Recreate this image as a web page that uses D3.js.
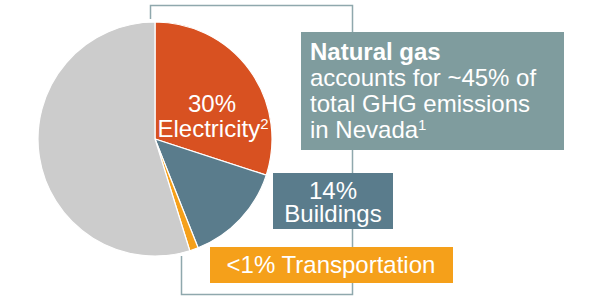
<!DOCTYPE html>
<html><head><meta charset="utf-8">
<script src="https://cdn.jsdelivr.net/npm/d3@7"></script>
<style>html,body{margin:0;padding:0;background:#fff;} text{font-family:"Liberation Sans",Arial,sans-serif;}</style>
</head><body>
<svg id="c" width="600" height="300"></svg>
<script>
const categories = ["Electricity", "Buildings", "Transportation", "Other"];
const values = [30, 14, 1.2, 54.8];
const colors = ["#D85121", "#5A7C8C", "#F5A01A", "#CCCCCC"];
const pctLabels = ["30%", "14%", "<1%"];
const calloutLines = ["accounts for ~45% of", "total GHG emissions", "in Nevada"];

const svg = d3.select("#c");
const cx = 155, cy = 139, r = 117;
const fs = 24;

// bracket frame
svg.append("path")
  .attr("d", "M150.5,19 V5.5 H352.5 V294.5 H181.5 V256")
  .attr("fill", "none").attr("stroke", "#8FA8AD").attr("stroke-width", 1.5);

const pie = d3.pie().sort(null).value(d => d)(values);
const arc = d3.arc().innerRadius(0).outerRadius(r);
const g = svg.append("g").attr("transform", `translate(${cx},${cy})`);
g.selectAll("path").data(pie).join("path")
  .attr("d", arc)
  .attr("fill", (d, i) => colors[i])
  .attr("stroke", "#fff").attr("stroke-width", 1.2);

// Electricity label inside slice
const el = svg.append("text").attr("fill", "#fff").attr("font-size", fs).attr("text-anchor", "middle");
el.append("tspan").attr("x", 212).attr("y", 112).text(pctLabels[0]);
const l2 = el.append("tspan").attr("x", 213).attr("y", 136.5).text(categories[0]);
l2.append("tspan").attr("font-size", 15).attr("dy", -8).text("2");

// Natural gas box
svg.append("rect").attr("x", 301).attr("y", 32).attr("width", 263).attr("height", 118).attr("fill", "#7F9C9E");
const ng = svg.append("text").attr("fill", "#fff").attr("font-size", fs);
ng.append("tspan").attr("x", 310).attr("y", 60).attr("font-weight", "bold").text("Natural gas");
calloutLines.forEach((t, i) => {
  const ts = ng.append("tspan").attr("x", 310).attr("y", 86 + i * 25.8).text(t);
  if (i === calloutLines.length - 1) ts.append("tspan").attr("font-size", 15).attr("dy", -8).text("1");
});

// Buildings box
svg.append("rect").attr("x", 273).attr("y", 173).attr("width", 120).attr("height", 56).attr("fill", colors[1]);
const bt = svg.append("text").attr("fill", "#fff").attr("font-size", fs).attr("text-anchor", "middle");
bt.append("tspan").attr("x", 333).attr("y", 198.5).text(pctLabels[1]);
bt.append("tspan").attr("x", 333).attr("y", 221.5).text(categories[1]);

// Transportation box
svg.append("rect").attr("x", 210).attr("y", 247).attr("width", 243).attr("height", 36).attr("fill", colors[2]);
svg.append("text").attr("fill", "#fff").attr("font-size", fs).attr("text-anchor", "middle")
  .attr("x", 331).attr("y", 272.5).text(pctLabels[2] + " " + categories[2]);
</script>
</body></html>
